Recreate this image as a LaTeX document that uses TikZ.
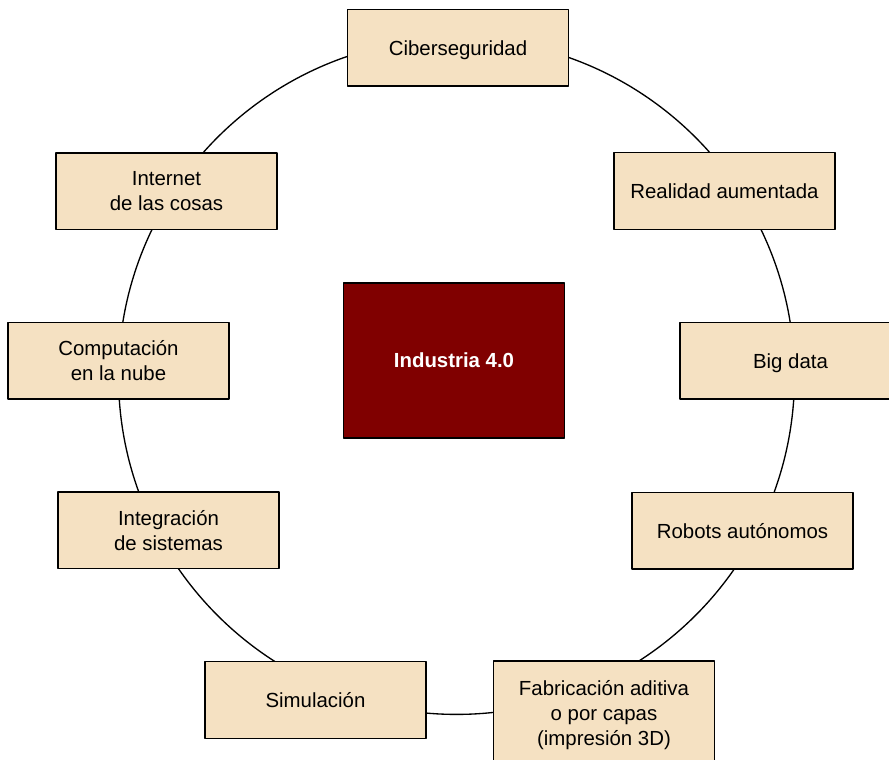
\documentclass[tikz,border=0pt]{standalone}
\usepackage{fontspec}
\setmainfont{Liberation Sans}
\definecolor{cajafondo}{HTML}{F5E1C2}
\definecolor{granate}{HTML}{800000}
\tikzset{
  caja/.style={rectangle, draw=black, line width=1.1pt, fill=cajafondo,
    minimum width=165.75pt, minimum height=57.4pt, align=center, inner sep=0pt,
    text depth=0pt, font=\fontsize{15.3}{18.6}\selectfont},
  nucleo/.style={caja, fill=granate, text=white, minimum height=116.25pt,
    font=\fontsize{15.3}{18.6}\selectfont\bfseries}
}

\begin{document}
\begin{tikzpicture}[line cap=round,line join=round,x=0.75pt,y=-0.75pt]
    \useasboundingbox (0,0) rectangle (889,760);
    \clip (0,0) rectangle (889,760);

    % Ring behind the boxes
    \coordinate (ring) at (456.5,376.4);
    \draw[black, line width=1pt] (ring) circle[radius=253.5pt];

    % Centre
    \draw(454,360.5) node[nucleo] (industria) {Industria 4.0};

    % Boxes round the ring
    \draw(458,47.7) node[caja] (ciber) {Ciberseguridad};
    \draw(724.5,191) node[caja] (realidad) {Realidad aumentada};
    \draw(790.5,360.7) node[caja] (bigdata) {Big data};
    \draw(742.5,530.5) node[caja] (robots) {Robots autónomos};
    \draw(604,713) node[caja, minimum height=78pt] (fabric) {Fabricación aditiva\\o por capas\\(impresión 3D)};
    \draw(315.5,700) node[caja] (simul) {Simulación};
    \draw(168.5,530.3) node[caja] (integr) {Integración\\de sistemas};
    \draw(118.5,360.7) node[caja] (comput) {Computación\\en la nube};
    \draw(166.5,191.3) node[caja] (iot) {Internet\\de las cosas};
\end{tikzpicture}
\end{document}
